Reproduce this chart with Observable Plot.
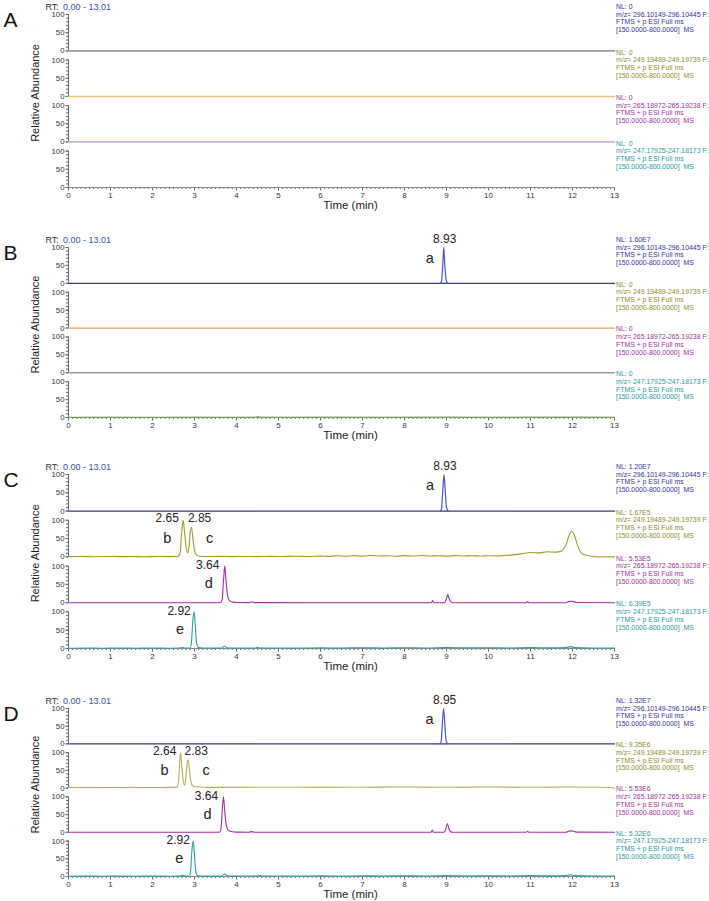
<!DOCTYPE html>
<html><head><meta charset="utf-8">
<script src="https://cdn.jsdelivr.net/npm/d3@7"></script>
<script src="https://cdn.jsdelivr.net/npm/@observablehq/plot@0.6"></script>
<style>
html,body{margin:0;padding:0;background:#fff;}
#root{position:relative;width:709px;height:901px;overflow:hidden;background:#fff;}
#root svg{position:absolute;left:0;overflow:visible;background:transparent;}
</style></head><body><div id="root"></div>
<script>
// ---------- data ----------
const rowIds = [1, 2, 3, 4];
const mzRanges = ["296.10149-296.10445", "249.19489-249.19739", "265.18972-265.19238", "247.17925-247.18173"];
const nlA = ["0", "0", "0", "0"];
const nlB = ["1.60E7", "0", "0", "0"];
const nlC = ["1.20E7", "1.67E5", "5.53E5", "6.39E5"];
const nlD = ["1.32E7", "9.35E6", "5.53E6", "5.32E6"];
const rtRange = "0.00 - 13.01";
const xTicks = [0, 1, 2, 3, 4, 5, 6, 7, 8, 9, 10, 11, 12, 13];
const yTicks = [0, 50, 100];
const yMinorTicks = [0, 10, 20, 30, 40, 50, 60, 70, 80, 90, 100];

// traces: [time (min), relative abundance (%)]
const flat = [[0, 0], [13, 0]];
const peakA_B = [[8.85, 0], [8.88, 5], [8.91, 50], [8.935, 100], [8.96, 50], [8.99, 10], [9.03, 0]];
const noiseB4 = [[0, 0.5], [1, 1], [2, 0.6], [3, 1], [4, 0.8], [4.45, 1], [4.5, 3], [4.58, 1], [5, 0.8], [6, 1.2], [7, 0.8], [8, 1], [9, 1.2], [10, 0.8], [11, 1], [12, 1.2], [13, 0.8]];

const peakA_C = [[8.85, 0], [8.88, 5], [8.91, 55], [8.94, 100], [8.97, 55], [9.0, 10], [9.04, 0]];
const traceC2 = [[0, 0.8], [0.3, 1.2], [0.6, 0.6], [0.9, 1.3], [1.2, 0.7], [1.5, 1.1], [1.8, 0.6], [2.1, 1.2], [2.4, 0.8], [2.6, 1.2], [2.66, 12], [2.69, 60], [2.73, 100], [2.76, 72], [2.8, 25], [2.84, 11], [2.87, 30], [2.9, 68], [2.93, 81], [2.96, 52], [3.0, 18], [3.05, 5], [3.12, 2], [3.3, 1], [3.6, 1.4], [3.9, 0.8], [4.2, 1.3], [4.5, 0.9], [4.8, 1.5], [5.1, 1], [5.4, 1.8], [5.7, 1.2], [6.0, 2.2], [6.2, 1.4], [6.4, 3], [6.6, 1.8], [6.8, 3.5], [7.0, 2.2], [7.2, 3.8], [7.4, 2.5], [7.6, 3.2], [7.8, 2], [8.0, 3.5], [8.2, 2.4], [8.4, 3.8], [8.6, 2.6], [8.8, 3.3], [9.0, 2.2], [9.2, 3.6], [9.4, 2.5], [9.6, 3.2], [9.8, 2.4], [10.0, 3.4], [10.2, 2.8], [10.4, 4], [10.6, 5.5], [10.8, 9], [11.0, 12], [11.2, 11], [11.4, 14], [11.6, 13], [11.75, 17], [11.85, 35], [11.93, 62], [11.98, 70], [12.05, 58], [12.12, 32], [12.2, 12], [12.3, 5], [12.45, 2], [12.6, 0.3], [13, 0]];
const traceC3 = [[0, 0], [3.5, 0], [3.62, 0.5], [3.66, 10], [3.69, 60], [3.72, 100], [3.75, 60], [3.79, 18], [3.84, 5], [3.92, 1.5], [4.0, 0.5], [4.3, 0.3], [4.36, 2.5], [4.42, 0.3], [6, 0], [8.64, 0], [8.67, 6], [8.7, 0], [8.95, 0], [8.99, 8], [9.03, 22], [9.06, 12], [9.1, 3], [9.16, 0], [10.9, 0], [10.93, 3], [10.96, 0], [11.85, 0], [11.9, 3], [11.96, 4], [12.03, 3], [12.1, 0.5], [13, 0]];
const traceC4 = [[0, 0.8], [0.4, 1.4], [0.8, 0.7], [1.2, 1.3], [1.6, 0.8], [2.0, 1.2], [2.4, 0.8], [2.65, 1.2], [2.71, 3.5], [2.77, 1.2], [2.9, 1.5], [2.93, 20], [2.96, 75], [2.99, 100], [3.02, 60], [3.05, 15], [3.09, 3], [3.2, 1.2], [3.5, 1], [3.66, 1.5], [3.71, 7], [3.77, 2], [3.9, 1], [4.2, 1.3], [4.45, 1.2], [4.5, 3], [4.56, 1.2], [5, 1.5], [5.5, 1], [6, 1.8], [6.5, 1.2], [7, 2], [7.5, 1.3], [8, 2.2], [8.5, 1.5], [9, 2.5], [9.5, 1.6], [10, 2.2], [10.5, 1.5], [11, 2.4], [11.5, 1.8], [11.85, 2.5], [11.95, 5], [12.05, 2.5], [12.5, 1.5], [13, 1.2]];

const peakA_D = [[8.84, 0], [8.87, 5], [8.9, 55], [8.93, 100], [8.96, 55], [8.99, 10], [9.03, 0]];
const traceD2 = [[0, 1.5], [0.5, 2], [1, 1.5], [1.5, 2], [2, 1.5], [2.4, 2], [2.58, 2], [2.62, 20], [2.65, 80], [2.67, 100], [2.7, 60], [2.74, 15], [2.77, 8], [2.8, 40], [2.83, 75], [2.85, 80], [2.88, 50], [2.92, 15], [2.97, 5], [3.1, 3], [3.3, 2], [4, 2], [5, 2.5], [6, 2], [7, 2.5], [8, 3], [9, 2.5], [10, 3], [11, 2.5], [12, 3], [12.6, 2.5], [12.9, 1.5], [13, 0]];
const traceD3 = [[0, 0], [3.48, 0], [3.6, 0.5], [3.63, 10], [3.66, 60], [3.69, 100], [3.72, 60], [3.76, 18], [3.81, 5], [3.9, 1.5], [4.0, 0.5], [4.3, 0.3], [4.36, 2], [4.42, 0.3], [6, 0], [8.63, 0], [8.66, 6], [8.69, 0], [8.94, 0], [8.98, 8], [9.02, 25], [9.05, 13], [9.09, 3], [9.15, 0], [10.9, 0], [10.93, 3], [10.96, 0], [11.85, 0], [11.9, 3], [11.96, 4], [12.03, 3], [12.1, 0.5], [13, 0]];
const traceD4 = [[0, 0.8], [0.4, 1.4], [0.8, 0.7], [1.2, 1.3], [1.6, 0.8], [2.0, 1.2], [2.4, 0.8], [2.65, 1.2], [2.72, 3.5], [2.78, 1.2], [2.88, 1.5], [2.91, 20], [2.94, 75], [2.97, 100], [3.0, 60], [3.03, 15], [3.07, 3], [3.2, 1.2], [3.5, 1], [3.66, 1.5], [3.72, 7], [3.78, 2], [3.9, 1], [4.2, 1.3], [4.5, 1.2], [4.55, 3], [4.61, 1.2], [5, 1.5], [5.5, 1], [6, 1.8], [6.5, 1.2], [7, 2], [7.5, 1.3], [8, 2.2], [8.5, 1.5], [9, 2.5], [9.5, 1.6], [10, 2.2], [10.5, 1.5], [11, 2.4], [11.5, 1.8], [11.85, 2.5], [11.95, 5], [12.05, 2.5], [12.5, 1.5], [13, 1.2]];

// peak annotations: retention-time label, compound letter, apex time
const labelsB = [{row: 1, rt: "8.93", id: "a", apex: 8.935}];
const labelsC = [
  {row: 1, rt: "8.93", id: "a", apex: 8.94},
  {row: 2, rt: "2.65", id: "b", apex: 2.73},
  {row: 2, rt: "2.85", id: "c", apex: 2.93},
  {row: 3, rt: "3.64", id: "d", apex: 3.72},
  {row: 4, rt: "2.92", id: "e", apex: 2.99}
];
const labelsD = [
  {row: 1, rt: "8.95", id: "a", apex: 8.93},
  {row: 2, rt: "2.64", id: "b", apex: 2.67},
  {row: 2, rt: "2.83", id: "c", apex: 2.85},
  {row: 3, rt: "3.64", id: "d", apex: 3.69},
  {row: 4, rt: "2.92", id: "e", apex: 2.97}
];

// ---------- styles ----------
const NAVY = "#3b3b6e", BLUE = "#5252c6", OLIVE = "#9d9d2c", OLIVE_L = "#b2b250", PURPLE = "#9e2e9e", TEAL = "#2b9f9f";
const textColors = ["#333399", "#8c8c1e", "#993399", "#1f9a9a"];
const labelOff = {
  a: {rx: 1, ry: -8, nx: -14, ny: 11},
  b: {rx: -16, ry: -2, nx: -16, ny: 18},
  c: {rx: 8, ry: -2, nx: 18, ny: 18},
  d: {rx: -17, ry: -1, nx: -16, ny: 17},
  e: {rx: -15, ry: -1, nx: -14, ny: 17}
};

const panels = [
  {id: "A", top: 14, h: 173, nl: nlA, labels: [], traces: [
    {row: 1, pts: flat, color: "#9b9b9b", w: 1.8},
    {row: 2, pts: flat, color: "#e8c07a", w: 1.6},
    {row: 3, pts: flat, color: "#c8b2df", w: 1.8},
    {row: 4, pts: flat, color: "#8a8a8a", w: 1.2}]},
  {id: "B", top: 247, h: 170, nl: nlB, labels: labelsB, traces: [
    {row: 1, pts: flat, color: NAVY, w: 1.3},
    {row: 1, pts: peakA_B, color: BLUE, w: 1.2},
    {row: 2, pts: flat, color: "#dca64c", w: 1.3},
    {row: 3, pts: flat, color: "#9a9a9a", w: 1.3},
    {row: 4, pts: noiseB4, color: "#7b9d55", w: 1}]},
  {id: "C", top: 474, h: 174, nl: nlC, labels: labelsC, traces: [
    {row: 1, pts: flat, color: NAVY, w: 1.3},
    {row: 1, pts: peakA_C, color: BLUE, w: 1.2},
    {row: 2, pts: traceC2, color: OLIVE, w: 1.1},
    {row: 3, pts: traceC3, color: PURPLE, w: 1.1},
    {row: 4, pts: traceC4, color: TEAL, w: 1.1}]},
  {id: "D", top: 708, h: 168, nl: nlD, labels: labelsD, traces: [
    {row: 1, pts: flat, color: NAVY, w: 1.3},
    {row: 1, pts: peakA_D, color: BLUE, w: 1.2},
    {row: 2, pts: traceD2, color: OLIVE_L, w: 1.1},
    {row: 3, pts: traceD3, color: PURPLE, w: 1.1},
    {row: 4, pts: traceD4, color: TEAL, w: 1.1}]}
];

const xMinorTicks = d3.range(0, 131).map(i => i / 10);
const FONT = "'Liberation Sans', Arial, Helvetica, sans-serif";
const MT = 24, MB = 32;

function makePanel(cfg) {
  const marks = [];
  marks.push(Plot.ruleX([0], {stroke: "#666", strokeWidth: 1}));
  marks.push(Plot.axisY(yMinorTicks, {tickSize: 2, fill: "none", stroke: "#666", label: null}));
  marks.push(Plot.axisY(yTicks, {tickSize: 2.5, tickPadding: 1.5, fontSize: 7.8, fill: "#333", stroke: "#666", label: null}));
  marks.push(Plot.axisX(xMinorTicks, {tickSize: 2, fill: "none", stroke: "#666", label: null}));
  marks.push(Plot.axisX(xTicks, {tickSize: 3.5, tickPadding: 1, fontSize: 8, fill: "#333", stroke: "#666", label: null}));
  marks.push(Plot.ruleY([{row: 4}], {y: 0, fy: "row", stroke: "#8a8a8a", strokeWidth: 1}));
  for (const tr of cfg.traces) {
    marks.push(Plot.line(tr.pts, {x: d => d[0], y: d => d[1], fy: () => tr.row, stroke: tr.color, strokeWidth: tr.w, curve: "monotone-x"}));
  }
  // right-hand trace descriptions
  rowIds.forEach((r, i) => {
    marks.push(Plot.text([{row: r}], {
      fy: "row", x: 13, y: 100,
      text: () => `NL: ${cfg.nl[i]}\nm/z= ${mzRanges[i]} F:\nFTMS + p ESI Full ms\n[150.0000-800.0000]\u00a0\u00a0MS`,
      textAnchor: "start", lineAnchor: "top", lineHeight: 1.12, dx: 1.5, dy: -11, fontSize: 6.9, fill: textColors[i]
    }));
  });
  // peak annotations
  for (const l of cfg.labels) {
    const o = labelOff[l.id];
    marks.push(Plot.text([l], {fy: "row", x: "apex", y: 100, text: "rt", dx: o.rx, dy: o.ry, fontSize: 12, fill: "#222"}));
    marks.push(Plot.text([l], {fy: "row", x: "apex", y: 100, text: "id", dx: o.nx, dy: o.ny, fontSize: 14.5, fill: "#222"}));
  }
  // panel letter and RT range
  marks.push(Plot.text([{row: 1}], {fy: "row", frameAnchor: "top-left", text: () => cfg.id, dx: -65, dy: -2, textAnchor: "start", fontSize: 21, fill: "#111"}));
  marks.push(Plot.text([{row: 1}], {fy: "row", frameAnchor: "top-left", text: () => "RT:", dx: -23, dy: -11.2, textAnchor: "start", fontSize: 9, fill: "#333"}));
  marks.push(Plot.text([{row: 1}], {fy: "row", frameAnchor: "top-left", text: () => rtRange, dx: -5.5, dy: -11.2, textAnchor: "start", fontSize: 9, fill: "#3a4fa8"}));
  // axis titles
  marks.push(Plot.text([{row: 2}], {fy: "row", frameAnchor: "bottom-left", text: () => "Relative Abundance", rotate: -90, textAnchor: "middle", dx: -30, dy: -3.5, fontSize: 11, fill: "#222"}));
  marks.push(Plot.text([{row: 4}], {fy: "row", frameAnchor: "bottom", text: () => "Time (min)", dx: 9, dy: 21.5, fontSize: 11.5, fill: "#222"}));

  const svg = Plot.plot({
    width: 709,
    height: MT + cfg.h + MB,
    marginLeft: 68, marginRight: 95, marginTop: MT, marginBottom: MB,
    style: {fontFamily: FONT, fontSize: "8px", color: "#333", background: "transparent", overflow: "visible"},
    x: {domain: [0, 13]},
    y: {domain: [0, 100]},
    fy: {domain: rowIds, paddingInner: 0.2, paddingOuter: 0, axis: null, round: false},
    marks
  });
  svg.style.top = (cfg.top - MT) + "px";
  return svg;
}

const root = document.getElementById("root");
for (const p of panels) root.appendChild(makePanel(p));
</script></body></html>
